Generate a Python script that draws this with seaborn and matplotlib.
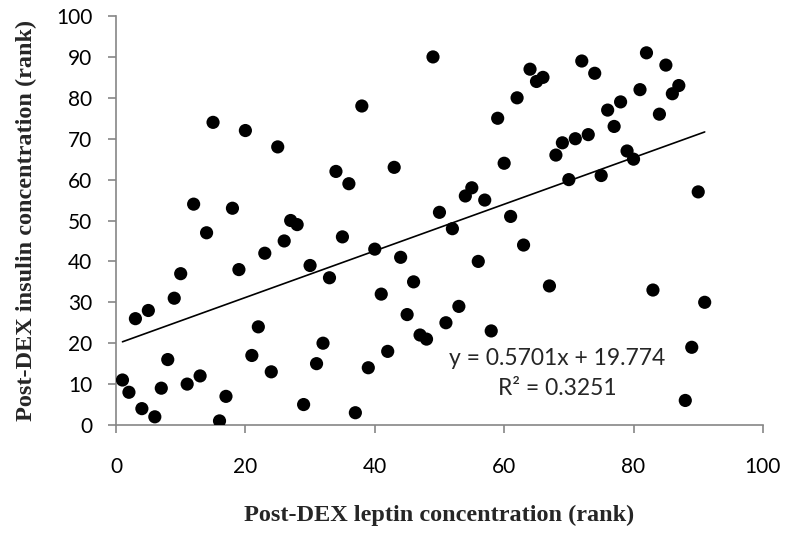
import pandas as pd
import matplotlib
matplotlib.use('Agg')
import matplotlib.pyplot as plt
import seaborn as sns

# leptin rank (x) and insulin rank (y)
leptin_rank = list(range(1, 92))
insulin_rank = [11, 8, 26, 4, 28, 2, 9, 16, 31, 37, 10, 54, 12, 47, 74, 1, 7, 53, 38, 72,
                17, 24, 42, 13, 68, 45, 50, 49, 5, 39, 15, 20, 36, 62, 46, 59, 3, 78, 14, 43,
                32, 18, 63, 41, 27, 35, 22, 21, 90, 52, 25, 48, 29, 56, 58, 40, 55, 23, 75, 64,
                51, 80, 44, 87, 84, 85, 34, 66, 69, 60, 70, 89, 71, 86, 61, 77, 73, 79, 67, 65,
                82, 91, 33, 76, 88, 81, 83, 6, 19, 57, 30]
x_ticks = [0, 20, 40, 60, 80, 100]
y_ticks = list(range(0, 101, 10))

df = pd.DataFrame({'leptin': leptin_rank, 'insulin': insulin_rank})

sns.set_style('white')
plt.rcParams['font.family'] = ['Lato', 'DejaVu Sans']

fig = plt.figure(figsize=(7.87, 5.36), dpi=100)
ax = fig.add_axes([0.1474, 0.2071, 0.822, 0.763])

sns.scatterplot(data=df, x='leptin', y='insulin', ax=ax, color='black', s=90,
                edgecolor='none', zorder=3)
sns.regplot(data=df, x='leptin', y='insulin', ax=ax, scatter=False, ci=None,
            truncate=True, line_kws={'color': 'black', 'lw': 1.2})

ax.set_xlim(0, 100)
ax.set_ylim(0, 100)
ax.set_xticks(x_ticks)
ax.set_yticks(y_ticks)
ax.tick_params(axis='both', labelsize=15, colors='#868686', labelcolor='black',
               direction='out', length=6, width=1.2, left=True, bottom=True)
ax.tick_params(axis='x', pad=17)
ax.tick_params(axis='y', pad=11)
for side in ['top', 'right']:
    ax.spines[side].set_visible(False)
for side in ['left', 'bottom']:
    ax.spines[side].set_color('#868686')
    ax.spines[side].set_linewidth(1.2)

ax.set_xlabel('Post-DEX leptin concentration (rank)', family='Liberation Serif',
              fontweight='bold', fontsize=17.5, labelpad=20)
ax.set_ylabel('Post-DEX insulin concentration (rank)', family='Liberation Serif',
              fontweight='bold', fontsize=17.5, labelpad=14)

ax.text(0.682, 0.147, 'y = 0.5701x + 19.774', transform=ax.transAxes,
        ha='center', va='baseline', fontsize=16.5)
ax.text(0.682, 0.073, 'R² = 0.3251', transform=ax.transAxes,
        ha='center', va='baseline', fontsize=16.5)

fig.savefig('out.png', dpi=100)
